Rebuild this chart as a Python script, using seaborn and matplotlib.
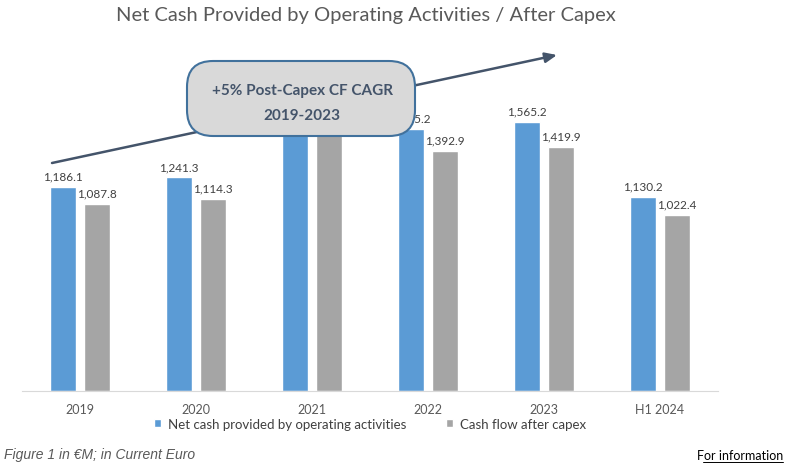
import matplotlib
matplotlib.use('Agg')
import matplotlib.pyplot as plt
import pandas as pd
import seaborn as sns
from matplotlib.patches import FancyBboxPatch

# Data (2021 values sit behind the callout box in the source, so they are estimates)
periods = ['2019', '2020', '2021', '2022', '2023', 'H1 2024']
net_cash_ops = [1186.1, 1241.3, 1590.0, 1525.2, 1565.2, 1130.2]
cf_after_capex = [1087.8, 1114.3, 1490.0, 1392.9, 1419.9, 1022.4]
series_names = ['Net cash provided by operating activities', 'Cash flow after capex']
hidden_labels = ['2021']  # covered by the callout in the original

df = pd.DataFrame({
    'period': periods * 2,
    'value': net_cash_ops + cf_after_capex,
    'series': [series_names[0]] * len(periods) + [series_names[1]] * len(periods),
})

sns.set_style('white')
plt.rcParams['font.family'] = ['Lato', 'DejaVu Sans']

fig = plt.figure(figsize=(7.9, 4.77), dpi=100)
ax = fig.add_axes([22 / 790, 85 / 477, 696 / 790, 344 / 477])

sns.barplot(data=df, x='period', y='value', hue='series', palette=['#5b9bd5', '#a5a5a5'],
            saturation=1, width=0.58, gap=0.226, errorbar=None, ax=ax)

ax.set_ylim(0, 2000)
ax.set_xlim(-0.5, len(periods) - 0.5)
ax.set_xlabel('')
ax.set_ylabel('')
ax.set_yticks([])
for side in ['top', 'right', 'left']:
    ax.spines[side].set_visible(False)
ax.spines['bottom'].set_color('#d9d9d9')
ax.tick_params(axis='x', length=0, pad=8.5, labelsize=9, labelcolor='#595959')

# Data labels
for cont in ax.containers:
    labs = [f'{b.get_height():,.1f}' if p not in hidden_labels else ''
            for b, p in zip(cont, periods)]
    ax.bar_label(cont, labels=labs, padding=4, fontsize=8.5, color='#404040')

# Legend below the axis
handles, labels = ax.get_legend_handles_labels()
ax.legend(handles, labels, loc='center', bbox_to_anchor=(0.5, -0.095), ncol=2, frameon=False,
          handlelength=0.55, handleheight=0.55, handletextpad=0.5, columnspacing=3.0,
          fontsize=9.5, labelcolor='#404040')

# Title and footer
fig.text(366 / 790, 1 - 15 / 477, 'Net Cash Provided by Operating Activities / After Capex',
         ha='center', va='center', fontsize=14.5, color='#595959')
fig.text(4 / 790, 1 - 455 / 477, 'Figure 1 in €M; in Current Euro', ha='left', va='center',
         fontsize=10, style='italic', color='#595959', family='Liberation Sans')
fig.text(783 / 790, 1 - 456 / 477, 'For information', ha='right', va='center',
         fontsize=9, color='#000000')
fig.add_artist(plt.Line2D([703 / 790, 783 / 790], [1 - 463 / 477, 1 - 463 / 477],
                          color='#000000', linewidth=0.7))

# Overlay in pixel units for the trend arrow and callout
ov = fig.add_axes([0, 0, 1, 1])
ov.set_xlim(0, 790)
ov.set_ylim(477, 0)
ov.axis('off')
ov.annotate('', xy=(557, 56), xytext=(52, 164),
            arrowprops=dict(arrowstyle='-|>,head_length=0.7,head_width=0.3', color='#44546a',
                            lw=1.8, shrinkA=0, shrinkB=0))
box = FancyBboxPatch((187, 62), 228, 75, boxstyle='round,pad=0,rounding_size=26',
                     facecolor='#d9d9d9', edgecolor='#41719c', linewidth=1.5, zorder=5)
ov.add_patch(box)
ov.text(302, 104, '+5% Post-Capex CF CAGR\n2019-2023', ha='center', va='center',
        fontsize=11, fontweight='bold', color='#44546a', linespacing=2.0, zorder=6)

fig.savefig('out.png', dpi=100)
